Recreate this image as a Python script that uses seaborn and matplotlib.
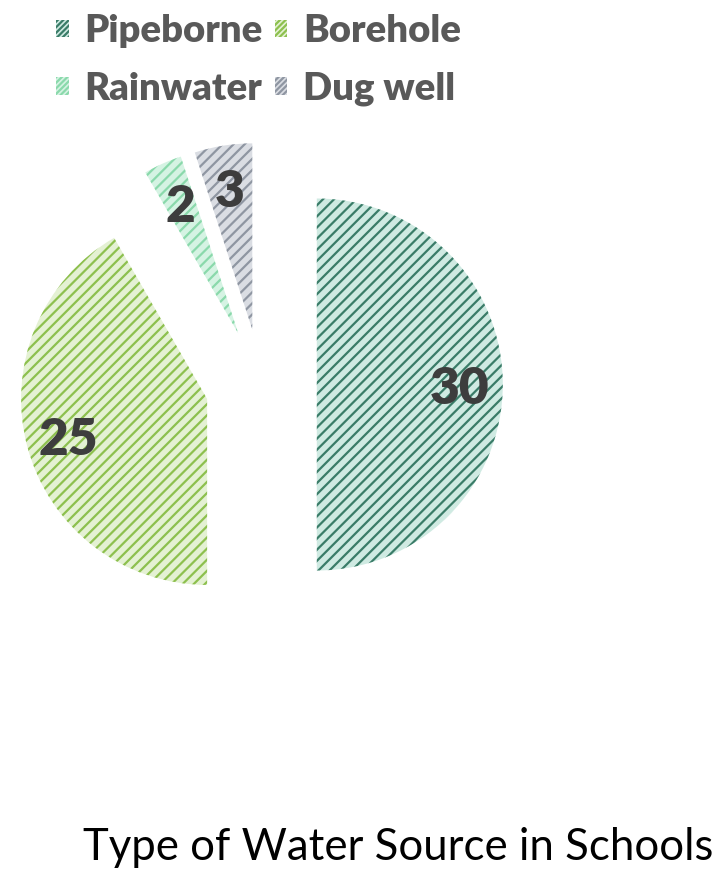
import matplotlib
matplotlib.use("Agg")
import matplotlib.pyplot as plt
import seaborn as sns
from matplotlib.patches import Patch
from matplotlib.transforms import offset_copy

sns.set_theme(style="white")
plt.rcParams["font.family"] = ["Lato", "DejaVu Sans"]
plt.rcParams["hatch.linewidth"] = 1.6

# Data
sources = ["Pipeborne", "Borehole", "Rainwater", "Dug well"]
schools = [30, 25, 2, 3]
explode_frac = [0.3, 0.3, 0.3, 0.3]

# Styling: light fill + darker diagonal hatch per source
fill_colors = ["#cfeae2", "#e4f1d3", "#d5f3e3", "#dadde3"]
hatch_colors = ["#3a7c68", "#8dc04e", "#8ad9ab", "#8f96a2"]

W, H = 723, 874
R = 186
fig = plt.figure(figsize=(W / 100, H / 100), dpi=100)
ax = fig.add_axes([0, 0, 1, 1])

total = sum(schools)
wedges, texts, autotexts = ax.pie(
    schools,
    explode=[e * R for e in explode_frac],
    startangle=90,
    counterclock=False,
    center=(261, H - 384.5),
    radius=R,
    colors=fill_colors,
    autopct=lambda p: f"{round(p * total / 100)}",
    pctdistance=0.77,
    textprops=dict(fontsize=37, fontweight="heavy", color="#3d3d3d"),
    wedgeprops=dict(linewidth=0),
)
for w, hc in zip(wedges, hatch_colors):
    w.set_hatch("///")
    w.set_edgecolor(hc)
    w.set_linewidth(0)
# nudge value labels down slightly so the digits sit visually centred
for t in autotexts:
    t.set_transform(offset_copy(t.get_transform(), fig=fig, x=0, y=-4, units="dots"))

ax.set_xlim(0, W)
ax.set_ylim(0, H)
ax.set_aspect("equal")
ax.axis("off")

# Legend laid out row by row (legend fills columns first)
handles = [
    Patch(facecolor=fc, edgecolor=hc, hatch="//////", linewidth=0)
    for fc, hc in zip(fill_colors, hatch_colors)
]
order = [0, 2, 1, 3]
leg = ax.legend(
    [handles[i] for i in order], [sources[i] for i in order],
    ncol=2,
    loc="upper left",
    bbox_to_anchor=(37 / W, 1 + 5 / H),
    frameon=False,
    prop=dict(size=27.5, weight="heavy"),
    labelcolor="#595959",
    handlelength=0.33,
    handleheight=0.33,
    handletextpad=0.42,
    columnspacing=0.3,
    labelspacing=0.62,
    borderpad=0,
)

fig.text(83 / W, 1 - 848 / H, "Type of Water Source in Schools",
         fontsize=31.5, color="#000000", ha="left", va="center")

fig.savefig("out.png", dpi=100, facecolor="white")
